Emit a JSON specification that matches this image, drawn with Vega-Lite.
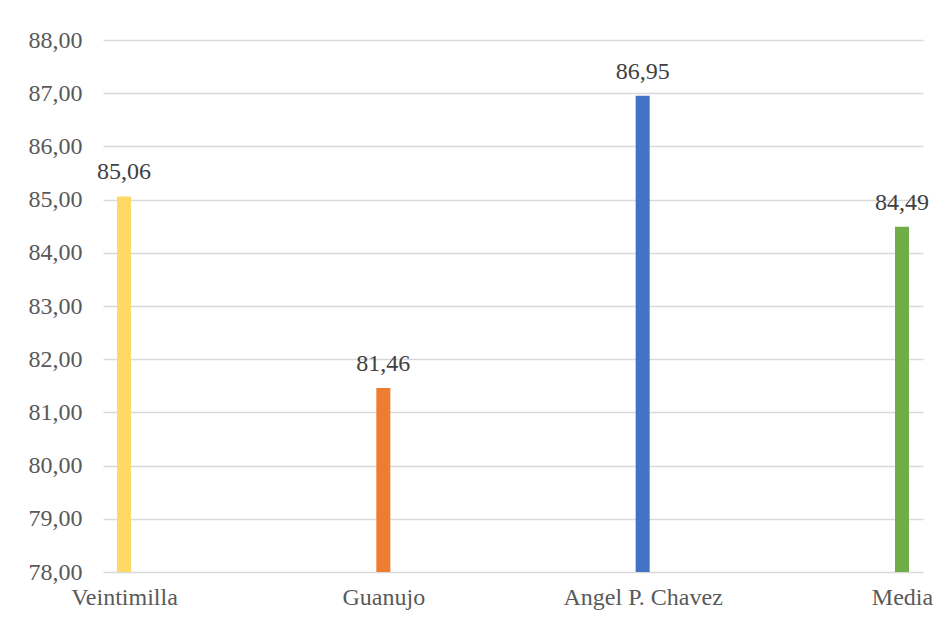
{
  "$schema": "https://vega.github.io/schema/vega-lite/v6.json",
  "autosize": "none",
  "width": 820,
  "height": 532,
  "padding": {"left": 103, "top": 40, "right": 23, "bottom": 49},
  "background": "white",
  "config": {
    "view": {"stroke": null},
    "locale": {"number": {"decimal": ",", "thousands": ".", "grouping": [3], "currency": ["", " €"]}},
    "font": "Liberation Serif"
  },
  "data": {
    "values": [
      {"cat": "Veintimilla", "val": 85.06, "color": "#FFD966"},
      {"cat": "Guanujo", "val": 81.46, "color": "#ED7D31"},
      {"cat": "Angel P. Chavez", "val": 86.95, "color": "#4472C4"},
      {"cat": "Media", "val": 84.49, "color": "#70AD47"}
    ]
  },
  "encoding": {
    "x": {
      "field": "cat", "type": "nominal", "sort": null,
      "scale": {"type": "point", "padding": 0.081},
      "axis": {"title": null, "labelAngle": 0, "domain": false, "ticks": false, "tickSize": 0, "labelPadding": 13, "labelFont": "Liberation Serif", "labelFontSize": 24, "labelColor": "#595959", "grid": false, "labelOverlap": false}
    },
    "y": {
      "field": "val", "type": "quantitative",
      "scale": {"domain": [78, 88], "nice": false, "zero": false},
      "axis": {"title": null, "values": [78,79,80,81,82,83,84,85,86,87,88], "format": ".2f", "domain": false, "ticks": false, "tickSize": 0, "labelPadding": 21, "labelFont": "Liberation Serif", "labelFontSize": 24, "labelColor": "#595959", "gridColor": "#d9d9d9", "gridWidth": 1.5, "labelOverlap": false}
    }
  },
  "layer": [
    {
      "mark": {"type": "bar", "size": 14, "clip": true},
      "encoding": {
        "y2": {"datum": 78},
        "color": {"field": "color", "type": "nominal", "scale": null}
      }
    },
    {
      "mark": {"type": "text", "baseline": "alphabetic", "dy": -17, "font": "Liberation Serif", "fontSize": 24, "color": "#404040"},
      "encoding": {
        "text": {"field": "val", "type": "quantitative", "format": ".2f"}
      }
    }
  ]
}
